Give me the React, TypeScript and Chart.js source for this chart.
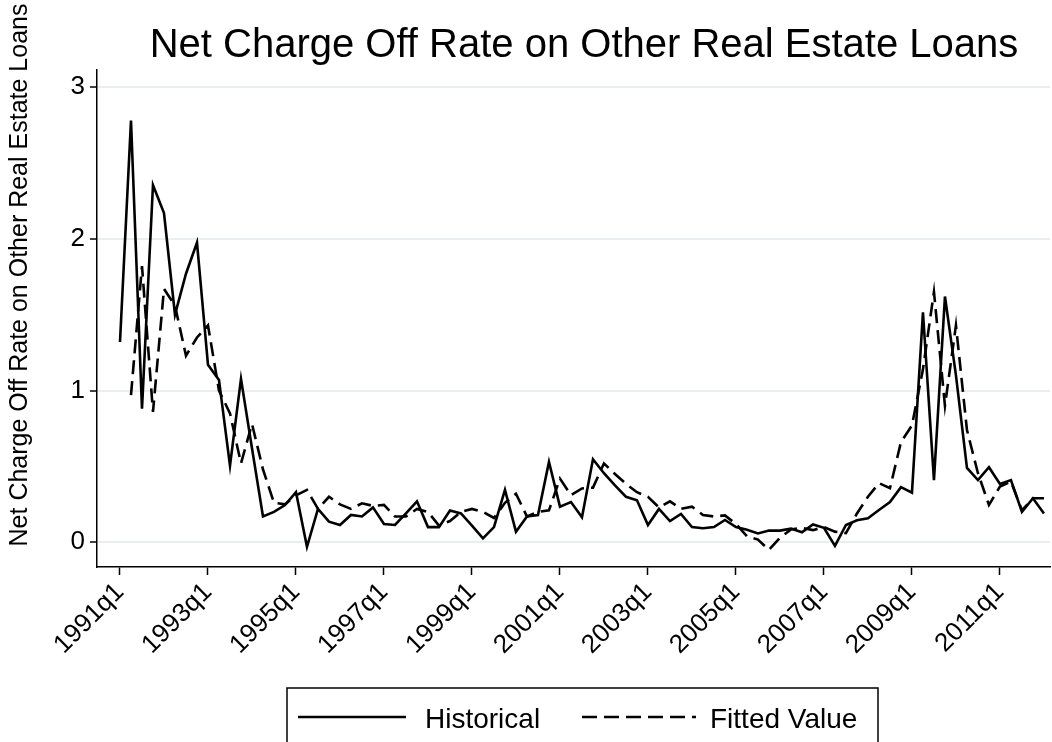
import React, { useEffect, useRef } from 'react';
import { Chart, registerables } from 'chart.js';

Chart.register(...registerables);

const TITLE = 'Net Charge Off Rate on Other Real Estate Loans';
const Y_TITLE = 'Net Charge Off Rate on Other Real Estate Loans';
const SERIES_NAMES = ['Historical', 'Fitted Value'];

const historical: number[] = [
  1.32, 2.78, 0.88, 2.355, 2.17, 1.5, 1.77, 1.975, 1.17, 1.07,
  0.505, 1.077, 0.62, 0.17, 0.2, 0.245, 0.33, -0.03, 0.22, 0.136,
  0.114, 0.18, 0.17, 0.23, 0.12, 0.114, 0.19, 0.27, 0.1, 0.1,
  0.21, 0.19, 0.11, 0.026, 0.1, 0.345, 0.07, 0.17, 0.18, 0.53,
  0.235, 0.265, 0.165, 0.547, 0.455, 0.375, 0.3, 0.277, 0.114, 0.22,
  0.14, 0.187, 0.1, 0.092, 0.1, 0.147, 0.1, 0.083, 0.058, 0.077,
  0.077, 0.09, 0.066, 0.117, 0.095, -0.024, 0.114, 0.145, 0.158, 0.213,
  0.265, 0.363, 0.327, 1.516, 0.41, 1.62, 1.1, 0.49, 0.41, 0.495,
  0.385, 0.41, 0.2, 0.29, 0.19,
];

const fitted: (number | null)[] = [
  null, 0.97, 1.82, 0.86, 1.67, 1.56, 1.23, 1.35, 1.43, 1.0,
  0.85, 0.52, 0.78, 0.48, 0.26, 0.25, 0.31, 0.345, 0.22, 0.3,
  0.25, 0.22, 0.257, 0.24, 0.246, 0.17, 0.17, 0.22, 0.2, 0.11,
  0.14, 0.2, 0.22, 0.2, 0.16, 0.26, 0.32, 0.17, 0.2, 0.21,
  0.42, 0.31, 0.355, 0.36, 0.52, 0.45, 0.385, 0.33, 0.3, 0.23,
  0.27, 0.22, 0.235, 0.18, 0.17, 0.177, 0.12, 0.04, 0.018, -0.05,
  0.03, 0.085, 0.095, 0.08, 0.1, 0.07, 0.06, 0.19, 0.3, 0.39,
  0.356, 0.66, 0.77, 1.14, 1.65, 0.9, 1.43, 0.74, 0.455, 0.246,
  0.367, 0.4, 0.21, 0.29, 0.29,
];

const quarterLabels: string[] = [];
for (let yr = 1991; yr <= 2012; yr++) {
  for (let q = 1; q <= 4; q++) quarterLabels.push(`${yr}q${q}`);
}
const quarters = quarterLabels.slice(0, historical.length);

const xTickLabels = ['1991q1', '1993q1', '1995q1', '1997q1', '1999q1', '2001q1', '2003q1', '2005q1', '2007q1', '2009q1', '2011q1'];
const yTickValues = [0, 1, 2, 3];

const FONT = '"Liberation Sans", Arial, Helvetica, sans-serif';

const textPlugin = {
  id: 'staticTexts',
  afterDraw(chart: any) {
    const ctx = chart.ctx as CanvasRenderingContext2D;
    ctx.save();
    ctx.fillStyle = '#000';
    ctx.strokeStyle = '#000';
    // Title
    ctx.font = `40px ${FONT}`;
    ctx.textAlign = 'center';
    ctx.textBaseline = 'alphabetic';
    ctx.fillText(TITLE, 584, 57);
    // Y axis title
    ctx.save();
    ctx.translate(27, 275);
    ctx.rotate(-Math.PI / 2);
    ctx.font = `25px ${FONT}`;
    ctx.fillText(Y_TITLE, 0, 0);
    ctx.restore();
    // Legend
    ctx.lineWidth = 1.5;
    ctx.strokeRect(287, 688, 591, 80);
    ctx.lineWidth = 2.6;
    ctx.setLineDash([]);
    ctx.beginPath();
    ctx.moveTo(298, 717);
    ctx.lineTo(406, 717);
    ctx.stroke();
    ctx.setLineDash([15, 7]);
    ctx.beginPath();
    ctx.moveTo(582, 717);
    ctx.lineTo(696, 717);
    ctx.stroke();
    ctx.setLineDash([]);
    ctx.font = `28px ${FONT}`;
    ctx.textAlign = 'left';
    ctx.fillText(SERIES_NAMES[0], 425, 728);
    ctx.fillText(SERIES_NAMES[1], 710, 728);
    ctx.restore();
  },
};

export default function App() {
  const canvasRef = useRef<HTMLCanvasElement | null>(null);

  useEffect(() => {
    if (!canvasRef.current) return;
    const histData = historical.map((v, i) => ({ x: i, y: v }));
    const fitData = fitted.map((v, i) => ({ x: i, y: v }));
    const xTickPositions = xTickLabels.map((l) => quarters.indexOf(l));

    const chart = new Chart(canvasRef.current, {
      type: 'line',
      data: {
        datasets: [
          {
            label: SERIES_NAMES[0],
            data: histData,
            borderColor: '#000',
            borderWidth: 2.6,
            pointRadius: 0,
            tension: 0,
            fill: false,
          },
          {
            label: SERIES_NAMES[1],
            data: fitData as any,
            borderColor: '#000',
            borderWidth: 2.6,
            borderDash: [14, 7],
            pointRadius: 0,
            tension: 0,
            fill: false,
            spanGaps: false,
          },
        ],
      },
      options: {
        responsive: false,
        animation: false,
        devicePixelRatio: 1,
        layout: { padding: { left: 0, right: 2, top: 70, bottom: 0 } },
        plugins: {
          legend: { display: false },
          title: { display: false },
          tooltip: { enabled: false },
        },
        scales: {
          x: {
            type: 'linear',
            min: -2.09,
            max: 84.55,
            afterBuildTicks: (scale: any) => {
              scale.ticks = xTickPositions.map((v) => ({ value: v }));
            },
            afterFit: (scale: any) => {
              scale.height = 742 - 567;
            },
            ticks: {
              autoSkip: false,
              maxRotation: 45,
              minRotation: 45,
              padding: 2,
              color: '#000',
              font: { family: FONT, size: 26 },
              callback: (value: any) => quarters[Math.round(Number(value))] ?? '',
            },
            grid: {
              display: true,
              drawOnChartArea: false,
              drawTicks: true,
              tickLength: 8,
              tickColor: '#000',
              tickWidth: 1.5,
              color: '#000',
            },
            border: { display: true, color: '#000', width: 1.5 },
          },
          y: {
            type: 'linear',
            min: -0.163,
            max: 3.113,
            afterBuildTicks: (scale: any) => {
              scale.ticks = yTickValues.map((v) => ({ value: v }));
            },
            afterFit: (scale: any) => {
              scale.width = 97;
            },
            ticks: {
              padding: 5,
              color: '#000',
              font: { family: FONT, size: 26 },
              callback: (value: any) => String(value),
            },
            grid: {
              display: true,
              drawOnChartArea: true,
              drawTicks: true,
              tickLength: 7,
              tickColor: '#000',
              tickWidth: 1.5,
              color: '#e8eff1',
              lineWidth: 2,
            },
            border: { display: true, color: '#000', width: 1.5 },
          },
        },
      },
      plugins: [textPlugin],
    });
    return () => chart.destroy();
  }, []);

  return (
    <div style={{ position: 'fixed', left: 0, top: 0, width: 1052, height: 742, background: '#fff' }}>
      <canvas ref={canvasRef} width={1052} height={742} style={{ width: 1052, height: 742, display: 'block' }} />
    </div>
  );
}
